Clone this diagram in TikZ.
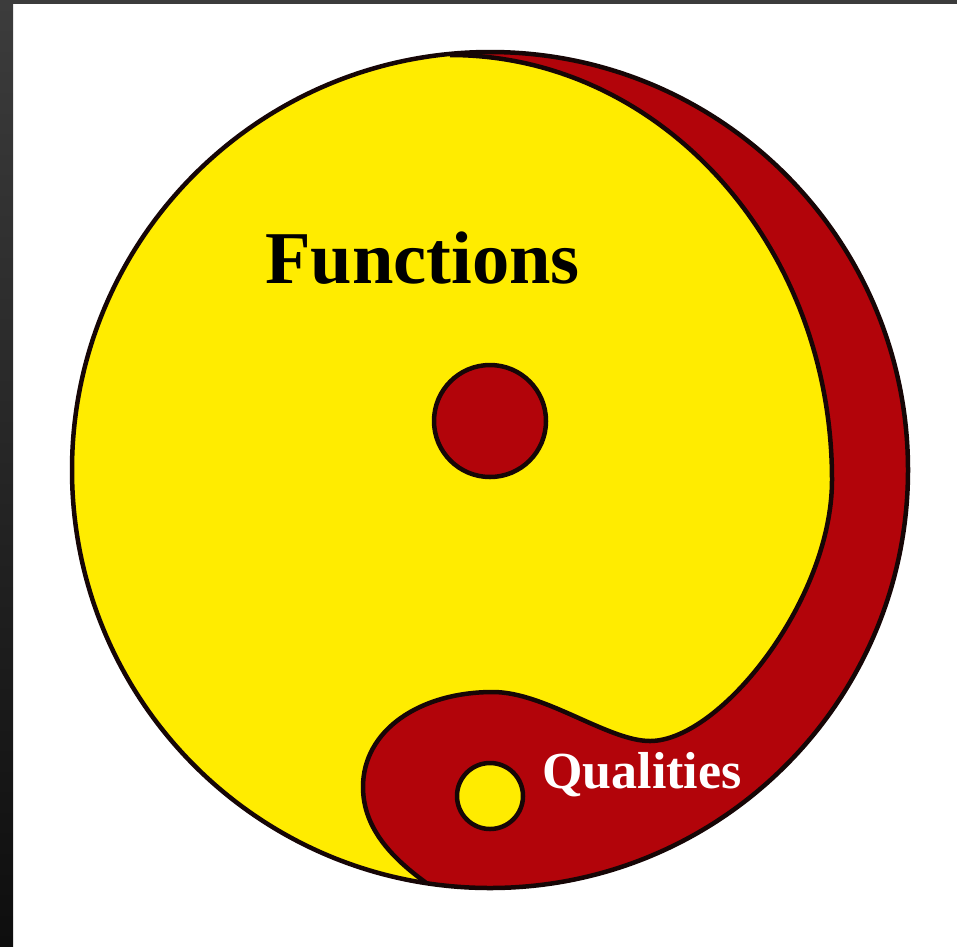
\documentclass[tikz,border=0pt]{standalone}
\usepackage{fontspec}
\setmainfont{Liberation Serif}
\definecolor{yel}{RGB}{255,236,0}
\definecolor{crim}{RGB}{178,4,10}
\definecolor{ink}{RGB}{22,6,6}
\definecolor{edgetop}{RGB}{60,60,60}
\definecolor{edgebot}{RGB}{14,14,14}
\begin{document}
\begin{tikzpicture}[x=1pt,y=-1pt,
  outline/.style={draw=ink, line width=4.5pt},
  bigtext/.style={anchor=base west, inner sep=0pt, font=\bfseries\fontsize{74.5}{80}\selectfont},
  smalltext/.style={anchor=base west, inner sep=0pt, text=white, font=\bfseries\fontsize{52}{56}\selectfont}]
\useasboundingbox (0,0) rectangle (957,946);
\fill[white] (0,0) rectangle (957,946);
\fill[edgetop] (0,0) rectangle (957,4);
\shade[top color=edgetop, bottom color=edgebot] (0,0) rectangle (13,946);
\coordinate (C) at (490,470);
\coordinate (top) at (450,55);
\coordinate (east) at (832,480);
\coordinate (notch) at (650,741);
\coordinate (blobtop) at (493,692);
\coordinate (blobwest) at (363,787);
\coordinate (join) at (425,882);
\coordinate (out) at (450,905);
\fill[yel] (C) circle (418);
\def\innerpath{(top) .. controls (661,55) and (832,245) .. (east)
  .. controls (832,600) and (720,741) .. (notch)
  .. controls (608,741) and (545,692) .. (blobtop)
  .. controls (420,692) and (363,730) .. (blobwest)
  .. controls (363,830) and (395,860) .. (join) -- (out)}
\begin{scope}
  \clip (C) circle (418);
  \fill[crim] \innerpath -- (450,960) -- (960,960) -- (960,0) -- (450,0) -- cycle;
  \draw[outline] \innerpath;
\end{scope}
\draw[outline] (C) circle (418);
\draw[outline, fill=crim] (490,421) circle (56);
\draw[outline, fill=yel] (490,796) circle (33);
\node[bigtext] (functions) at (265,283) {Functions};
\node[smalltext] (qualities) at (542,788) {Qualities};
\end{tikzpicture}
\end{document}
